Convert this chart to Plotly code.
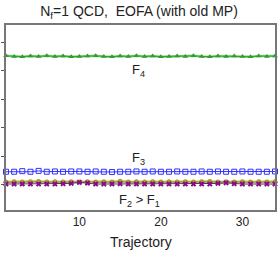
import plotly.graph_objects as go

traj = list(range(1, 35))
f4 = [5.52, 5.50, 5.49, 5.51, 5.50, 5.52, 5.50, 5.51, 5.49, 5.50, 5.51, 5.52, 5.50, 5.49, 5.51, 5.50,
      5.52, 5.50, 5.51, 5.49, 5.50, 5.51, 5.50, 5.52, 5.50, 5.49, 5.51, 5.50, 5.51, 5.50, 5.49, 5.51, 5.50, 5.51]
f3 = [1.46, 1.46, 1.48, 1.46, 1.49, 1.46, 1.47, 1.46, 1.47, 1.47, 1.46, 1.47, 1.46, 1.45, 1.46, 1.46,
      1.47, 1.46, 1.47, 1.46, 1.46, 1.47, 1.46, 1.46, 1.47, 1.46, 1.47, 1.46, 1.46, 1.47, 1.46, 1.46, 1.46, 1.47]
f2 = [1.10, 1.11, 1.10, 1.11, 1.12, 1.10, 1.11, 1.10, 1.11, 1.10, 1.11, 1.10, 1.11, 1.10, 1.13, 1.10,
      1.11, 1.10, 1.11, 1.10, 1.11, 1.10, 1.11, 1.10, 1.11, 1.12, 1.10, 1.11, 1.10, 1.11, 1.10, 1.11, 1.10, 1.11]
f1 = [1.03, 1.03, 1.03, 1.03, 1.03, 1.03, 1.03, 1.04, 1.05, 1.09, 1.06, 1.03, 1.03, 1.03, 1.04, 1.03,
      1.03, 1.03, 1.03, 1.03, 1.03, 1.03, 1.03, 1.03, 1.03, 1.03, 1.05, 1.07, 1.04, 1.03, 1.03, 1.03, 1.03, 1.03]

fig = go.Figure()
fig.add_trace(go.Scatter(x=traj, y=f4, mode="lines+markers", cliponaxis=False,
                         line=dict(color="#8fd08f", width=2.5),
                         marker=dict(symbol="triangle-up", size=5, color="#2ca02c")))
fig.add_trace(go.Scatter(x=traj, y=f4, mode="lines",
                         line=dict(color="#2ca02c", width=1)))
fig.add_trace(go.Scatter(x=traj, y=f3, mode="lines+markers", cliponaxis=False,
                         line=dict(color="#3030ff", width=1),
                         marker=dict(symbol="square-open", size=5, color="#3030ff",
                                     line=dict(width=1))))
fig.add_trace(go.Scatter(x=traj, y=f2, mode="lines+markers", cliponaxis=False,
                         line=dict(color="#b8b080", width=2.5),
                         marker=dict(symbol="circle", size=5, color="#a89a2a")))
fig.add_trace(go.Scatter(x=traj, y=f2, mode="lines",
                         line=dict(color="#b0a020", width=1)))
fig.add_trace(go.Scatter(x=traj, y=f1, mode="lines+markers", cliponaxis=False,
                         line=dict(color="#404040", width=1),
                         marker=dict(symbol="x", size=5, color="#8b0a8b",
                                     line=dict(width=0))))

axis_common = dict(showline=True, linecolor="#777777", linewidth=1.5, mirror=True,
                   showgrid=False, zeroline=False, ticklen=3,
                   tickcolor="#555555", automargin=False)

fig.update_layout(
    width=278, height=253,
    margin=dict(l=6, r=3, t=25, b=43),
    paper_bgcolor="white", plot_bgcolor="white",
    showlegend=False,
    font=dict(family="Liberation Sans, Arial, sans-serif", color="#222222"),
    title=dict(text="N<sub>f</sub>=1 QCD,  EOFA (with old MP)", x=0.5, xanchor="center",
               y=0.955, yanchor="middle", font=dict(size=14)),
    xaxis=dict(range=[1, 34], tickvals=[10, 20, 30], ticks="", tickfont=dict(size=12),
               **axis_common),
    yaxis=dict(range=[0.12, 6.6], tickvals=[1, 2, 3, 4, 5, 6], ticks="outside",
               showticklabels=False, **axis_common),
    annotations=[
        dict(x=17.3, y=5.02, text="F<sub>4</sub>", showarrow=False, font=dict(size=13)),
        dict(x=17.3, y=1.93, text="F<sub>3</sub>", showarrow=False, font=dict(size=13)),
        dict(x=17.4, y=0.47, text="F<sub>2</sub> > F<sub>1</sub>", showarrow=False, font=dict(size=13)),
        dict(x=0.5, y=-0.173, xref="paper", yref="paper", xanchor="center", yanchor="middle",
             text="Trajectory", showarrow=False, font=dict(size=14)),
    ],
)

fig.write_html("out.html", config={"displayModeBar": False},
               post_script="document.body.style.margin='0';document.body.style.padding='0';")
